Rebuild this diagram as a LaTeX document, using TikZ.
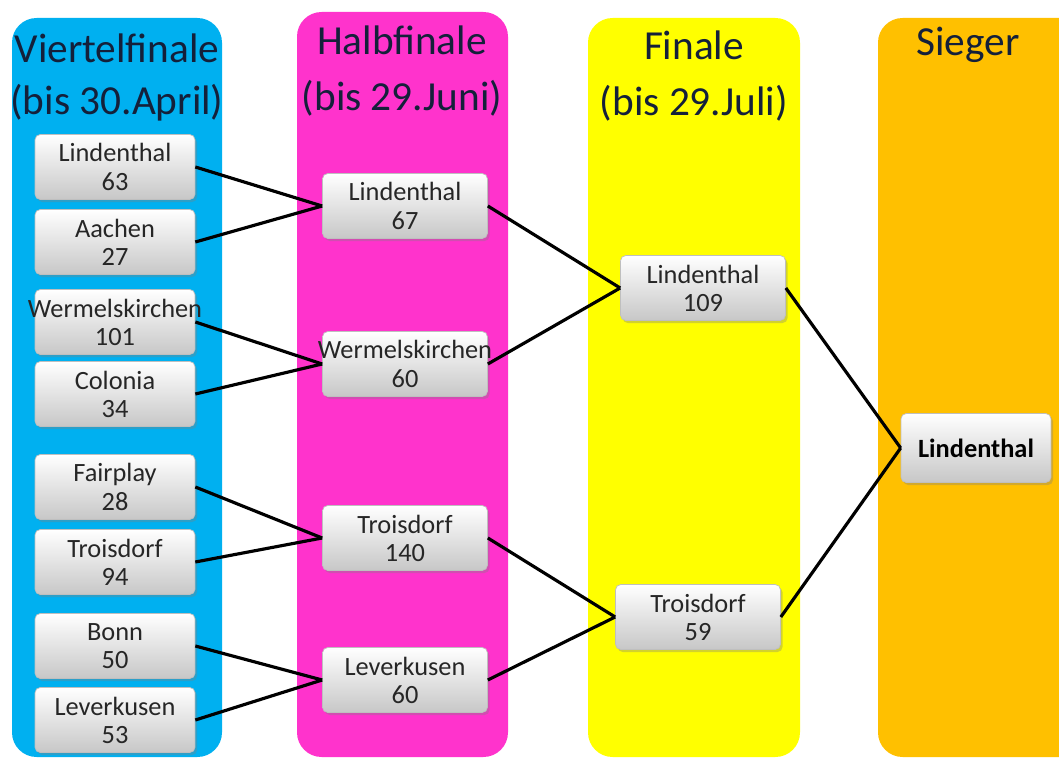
\documentclass[tikz,border=0pt]{standalone}
\usepackage{fontspec}
\setmainfont{Carlito}
\usepackage{xcolor}
\definecolor{vfblau}{HTML}{00B0F0}
\definecolor{hfpink}{HTML}{FF33CC}
\definecolor{fgelb}{HTML}{FFFF00}
\definecolor{sorange}{HTML}{FFC000}
\definecolor{titelblau}{HTML}{14203A}
\usetikzlibrary{shadows}

\begin{document}
\begin{tikzpicture}[x=0.02cm, y=-0.02cm,
	spalte/.style={rounded corners=14pt},
	titel/.style={font=\fontsize{23.5}{28}\selectfont, text=titelblau, inner sep=0pt},
	spiel/.style={rectangle, rounded corners=3pt, draw=black!25, top color=white, bottom color=black!22,
	              drop shadow={shadow xshift=1.2pt, shadow yshift=-1.5pt, opacity=0.35},
	              align=center, text=black!85, font=\fontsize{15}{16}\selectfont,
	              minimum width=3.2cm, minimum height=1.3cm, inner sep=1pt},
	linie/.style={draw=black, line width=1.8pt}
	]
\useasboundingbox (0,0) rectangle (1059,760);
\clip (0,0) rectangle (1059,760);
\fill[white] (0,0) rectangle (1059,760);

\fill[vfblau, spalte] (12,18) rectangle (222,757);
\fill[hfpink, spalte] (297,12) rectangle (508,757);
\fill[fgelb, spalte] (588,18) rectangle (800,757);
\fill[sorange, spalte] (878,18) rectangle (1090,757);

\node[titel] (t1a) at (117,48) {Viertelfinale};
\node[titel] (t1b) at (117,103) {(bis 30.April)};
\node[titel] (t2a) at (402,40) {Halbfinale};
\node[titel] (t2b) at (402,98) {(bis 29.Juni)};
\node[titel] (t3a) at (694,45) {Finale};
\node[titel] (t3b) at (694,103) {(bis 29.Juli)};
\node[titel] (t4a) at (968,45) {Sieger};

\node[spiel] (vf1) at (115,167) {Lindenthal\\63};
\node[spiel] (vf2) at (115,242) {Aachen\\27};
\node[spiel] (vf3) at (115,322) {\makebox[3cm]{Wermelskirchen}\\101};
\node[spiel] (vf4) at (115,394) {Colonia\\34};
\node[spiel] (vf5) at (115,487) {Fairplay\\28};
\node[spiel] (vf6) at (115,562) {Troisdorf\\94};
\node[spiel] (vf7) at (115,646) {Bonn\\50};
\node[spiel] (vf8) at (115,720) {Leverkusen\\53};

\node[spiel, minimum width=3.3cm] (hf1) at (405,206) {Lindenthal\\67};
\node[spiel, minimum width=3.3cm] (hf2) at (405,364) {\makebox[3.1cm]{Wermelskirchen}\\60};
\node[spiel, minimum width=3.3cm] (hf3) at (405,538) {Troisdorf\\140};
\node[spiel, minimum width=3.3cm] (hf4) at (405,680) {Leverkusen\\60};

\node[spiel, minimum width=3.3cm] (f1) at (703,288) {Lindenthal\\109};
\node[spiel, minimum width=3.3cm] (f2) at (698,617) {Troisdorf\\59};

\node[spiel, minimum width=3cm, minimum height=1.38cm, font=\fontsize{15}{16}\selectfont\bfseries, text=black] (sieger) at (976,448) {Lindenthal};

\draw[linie] (vf1.east) -- (hf1.west);
\draw[linie] (vf2.east) -- (hf1.west);
\draw[linie] (vf3.east) -- (hf2.west);
\draw[linie] (vf4.east) -- (hf2.west);
\draw[linie] (vf5.east) -- (hf3.west);
\draw[linie] (vf6.east) -- (hf3.west);
\draw[linie] (vf7.east) -- (hf4.west);
\draw[linie] (vf8.east) -- (hf4.west);
\draw[linie] (hf1.east) -- (f1.west);
\draw[linie] (hf2.east) -- (f1.west);
\draw[linie] (hf3.east) -- (f2.west);
\draw[linie] (hf4.east) -- (f2.west);
\draw[linie] (f1.east) -- (sieger.west);
\draw[linie] (f2.east) -- (sieger.west);
\end{tikzpicture}
\end{document}
